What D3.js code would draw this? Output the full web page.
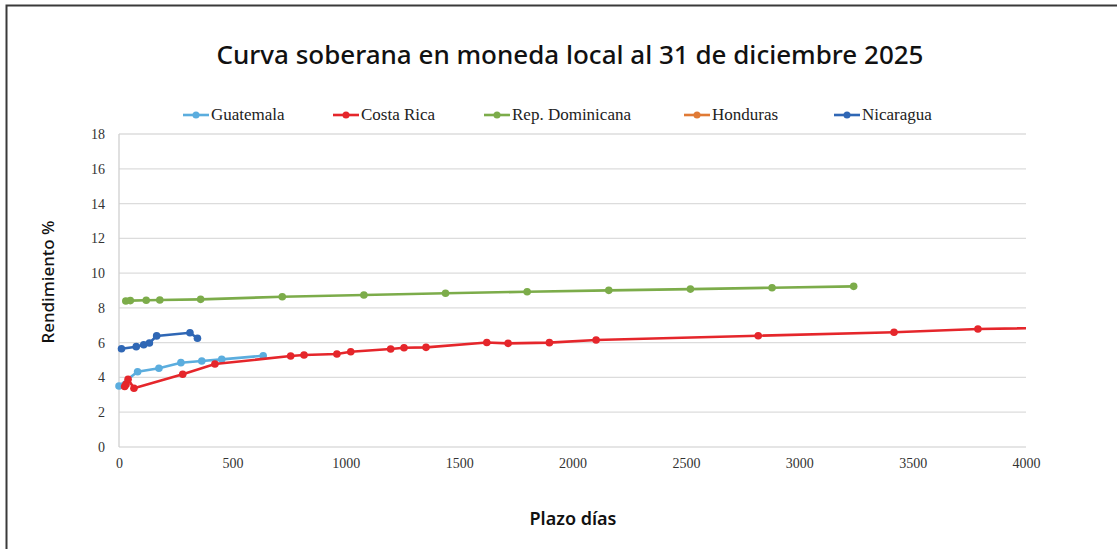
<!DOCTYPE html>
<html>
<head>
<meta charset="utf-8">
<script src="https://cdn.jsdelivr.net/npm/d3@7"></script>
<style>
  body { margin: 0; background: #fff; }
  svg { display: block; }
  .tick text { font-family: "Liberation Serif", "DejaVu Serif", serif; }
</style>
</head>
<body>
<div id="chart"></div>
<script>
// data: [plazo días, rendimiento %]
var guatemala = [[0, 3.51], [82, 4.33], [176, 4.53], [273, 4.85], [365, 4.95], [453, 5.04], [636, 5.25]];
var costaRica = [[25, 3.48], [31, 3.6], [40, 3.9], [66, 3.38], [281, 4.18], [423, 4.77], [757, 5.23], [816, 5.29],
  [961, 5.35], [1022, 5.48], [1198, 5.64], [1257, 5.71], [1354, 5.73], [1622, 6.01], [1716, 5.96], [1898, 6.0],
  [2104, 6.15], [2819, 6.4], [3418, 6.6], [3788, 6.79], [5400, 7.09]];
var repDominicana = [[30, 8.4], [50, 8.42], [120, 8.44], [180, 8.45], [360, 8.49], [720, 8.64], [1080, 8.74],
  [1440, 8.84], [1800, 8.93], [2160, 9.01], [2520, 9.08], [2880, 9.16], [3240, 9.24]];
var honduras = [];
var nicaragua = [[11, 5.65], [76, 5.77], [109, 5.88], [134, 5.98], [166, 6.39], [313, 6.57], [346, 6.25]];

var seriesNames = ["Guatemala", "Costa Rica", "Rep. Dominicana", "Honduras", "Nicaragua"];
var seriesData = [guatemala, costaRica, repDominicana, honduras, nicaragua];
var seriesColors = ["#5badde", "#e5262b", "#7cac4a", "#e07a35", "#2f67b5"];
var xTicks = [0, 500, 1000, 1500, 2000, 2500, 3000, 3500, 4000];
var yTicks = [0, 2, 4, 6, 8, 10, 12, 14, 16, 18];

var width = 1117, height = 549;
var svg = d3.select("#chart").append("svg")
    .attr("width", width)
    .attr("height", height);

// outer frame
svg.append("rect")
    .attr("x", 6.5).attr("y", 5.5)
    .attr("width", 1200).attr("height", 600)
    .attr("fill", "none")
    .attr("stroke", "#3a3a3a")
    .attr("stroke-width", 2);

var x = d3.scaleLinear().domain([0, 4000]).range([119, 1026]);
var y = d3.scaleLinear().domain([0, 18]).range([447, 134]);

// gridlines
svg.append("g")
    .selectAll("line")
    .data(yTicks)
    .join("line")
    .attr("x1", x(0)).attr("x2", x(4000))
    .attr("y1", d => y(d)).attr("y2", d => y(d))
    .attr("stroke", "#dcdcdc")
    .attr("stroke-width", 1.3);

svg.append("line")
    .attr("x1", x(0)).attr("x2", x(0))
    .attr("y1", y(0)).attr("y2", y(18))
    .attr("stroke", "#d0d0d0")
    .attr("stroke-width", 1.3);

// axes (tick text only)
var yAxis = svg.append("g")
    .attr("transform", "translate(" + x(0) + ",0)")
    .call(d3.axisLeft(y).tickValues(yTicks).tickSize(0).tickPadding(14));
var xAxis = svg.append("g")
    .attr("transform", "translate(0," + y(0) + ")")
    .call(d3.axisBottom(x).tickValues(xTicks).tickSize(0).tickPadding(11).tickFormat(d3.format("d")));
[yAxis, xAxis].forEach(function(a) {
  a.attr("font-family", "Liberation Serif").attr("font-size", 14);
  a.select(".domain").remove();
  a.selectAll("text").attr("fill", "#333");
});

// clip the lines to the plot area
svg.append("clipPath").attr("id", "plot")
  .append("rect")
    .attr("x", x(0) - 8).attr("y", y(18))
    .attr("width", x(4000) - x(0) + 8).attr("height", y(0) - y(18) + 8);

var line = d3.line().x(d => x(d[0])).y(d => y(d[1]));

var plot = svg.append("g").attr("clip-path", "url(#plot)");
seriesData.forEach(function(data, i) {
  var g = plot.append("g");
  g.append("path")
      .datum(data)
      .attr("d", line)
      .attr("fill", "none")
      .attr("stroke", seriesColors[i])
      .attr("stroke-width", 2.6);
  g.selectAll("circle")
      .data(data)
      .join("circle")
      .attr("cx", d => x(d[0]))
      .attr("cy", d => y(d[1]))
      .attr("r", 3.8)
      .attr("fill", seriesColors[i]);
});

// title
svg.append("text")
    .attr("x", 570).attr("y", 64)
    .attr("text-anchor", "middle")
    .attr("font-family", "'Noto Sans', sans-serif")
    .attr("font-size", 26)
    .attr("font-weight", 500)
    .attr("fill", "#111")
    .text("Curva soberana en moneda local al 31 de diciembre 2025");

// legend
var legendX = [183, 333, 484, 684, 834];
var legend = svg.append("g");
seriesNames.forEach(function(name, i) {
  var lg = legend.append("g").attr("transform", "translate(" + legendX[i] + ",115)");
  lg.append("line")
      .attr("x1", 0).attr("x2", 26)
      .attr("stroke", seriesColors[i])
      .attr("stroke-width", 2.6);
  lg.append("circle").attr("cx", 13).attr("r", 3.5).attr("fill", seriesColors[i]);
  lg.append("text")
      .attr("x", 28).attr("y", 5)
      .attr("font-family", "'Liberation Serif', serif")
      .attr("font-size", 17)
      .attr("fill", "#222")
      .text(name);
});

// axis titles
svg.append("text")
    .attr("transform", "translate(54,282) rotate(-90)")
    .attr("text-anchor", "middle")
    .attr("font-family", "'Noto Sans', sans-serif")
    .attr("font-size", 17)
    .attr("font-weight", 500)
    .attr("fill", "#111")
    .text("Rendimiento %");

svg.append("text")
    .attr("x", 573).attr("y", 525)
    .attr("text-anchor", "middle")
    .attr("font-family", "'Noto Sans', sans-serif")
    .attr("font-size", 18)
    .attr("font-weight", 600)
    .attr("fill", "#111")
    .text("Plazo días");
</script>
</body>
</html>
